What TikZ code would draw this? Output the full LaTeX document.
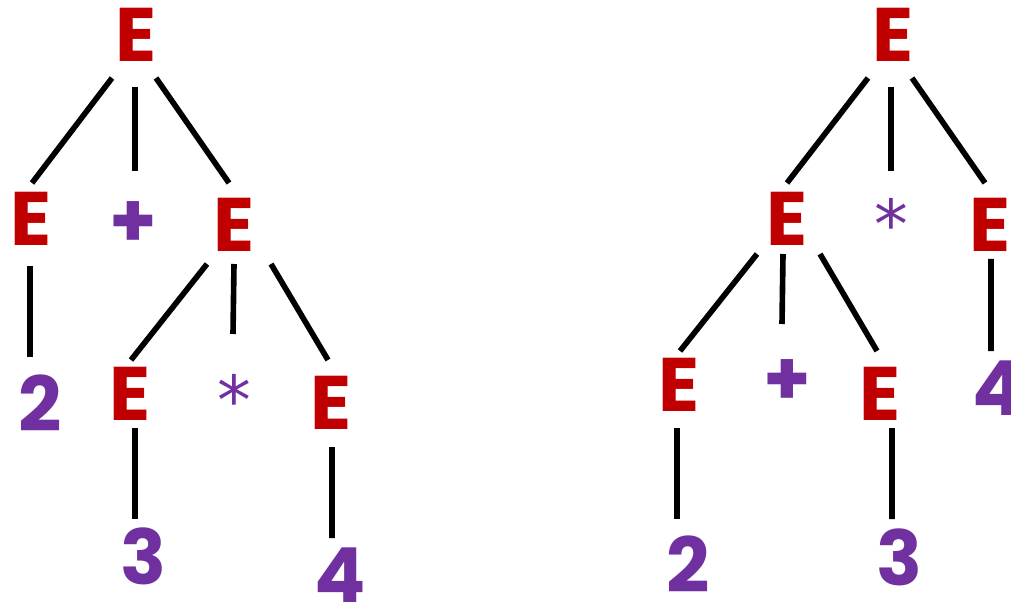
\documentclass[tikz,border=0pt]{standalone}
\usepackage{fontspec}
\usepackage{tikz}
\usetikzlibrary{calc}
\newfontfamily\treefont{Poppins}
\newfontfamily\starfont{DejaVu Sans}
\definecolor{ntred}{HTML}{C00000}
\definecolor{tmpurple}{HTML}{7030A0}

\begin{document}
\begin{tikzpicture}[x=0.025cm, y=-0.025cm,
	nt/.style={inner sep=0pt, color=ntred, font=\treefont\bfseries\fontsize{54}{60}\selectfont},
	tm/.style={inner sep=0pt, color=tmpurple, font=\treefont\bfseries\fontsize{54}{60}\selectfont},
	op/.style={inner sep=0pt, color=tmpurple, font=\starfont\fontsize{48}{54}\selectfont},
	br/.style={line width=4pt, color=black}]
	%%%%% START %%%%%
	
	\useasboundingbox (0, 0) rectangle (1011, 602);
	
	% left tree: E + (E * E)
	\node[nt] (rA) at (136.5, 34.5) {E};
	\node[nt] (eA) at (31, 218.5) {E};
	\node[tm] (pA) at (133, 225) {+};
	\node[nt] (eB) at (234.5, 225) {E};
	\node[tm] (nA) at (40.5, 403.5) {2};
	\node[nt] (eC) at (130, 394) {E};
	\node[op] (sA) at (234, 399) {*};
	\node[nt] (eD) at (331.5, 403) {E};
	\node[tm] (nB) at (143, 556) {3};
	\node[tm] (nC) at (340, 575) {4};
	
	\draw[br] ($(rA)+(-24.5, 43.5)$) -- ($(eA)+(1, -35.5)$);
	\draw[br] ($(rA)+(-1.5, 52.5)$) -- ($(pA)+(2, -54)$);
	\draw[br] ($(rA)+(19.5, 43.5)$) -- ($(eB)+(-5.5, -42)$);
	\draw[br] ($(eA)+(-1, 47.5)$) -- ($(nA)+(-10.5, -46.5)$);
	\draw[br] ($(eB)+(-27.5, 39)$) -- ($(eC)+(1, -34)$);
	\draw[br] ($(eB)+(-0.5, 39)$) -- ($(sA)+(-1, -65)$);
	\draw[br] ($(eB)+(36.5, 39)$) -- ($(eD)+(-3.5, -43)$);
	\draw[br] ($(eC)+(5, 34)$) -- ($(nB)+(-8, -37)$);
	\draw[br] ($(eD)+(0.5, 44)$) -- ($(nC)+(-8, -37)$);
	
	% right tree: (E + E) * E
	\node[nt] (rB) at (893, 34.5) {E};
	\node[nt] (eE) at (787, 218.5) {E};
	\node[op] (sB) at (891, 223) {*};
	\node[nt] (eF) at (990.5, 225) {E};
	\node[nt] (eG) at (679.5, 385) {E};
	\node[tm] (pB) at (787, 383) {+};
	\node[nt] (eH) at (880.5, 394) {E};
	\node[tm] (nD) at (998, 388.5) {4};
	\node[tm] (nE) at (688, 564) {2};
	\node[tm] (nF) at (899, 557) {3};
	
	\draw[br] ($(rB)+(-25, 43.5)$) -- ($(eE)+(0, -35.5)$);
	\draw[br] ($(rB)+(-2, 52.5)$) -- ($(sB)+(0, -52)$);
	\draw[br] ($(rB)+(19, 43.5)$) -- ($(eF)+(-5.5, -42)$);
	\draw[br] ($(eE)+(-30, 35.5)$) -- ($(eG)+(0.5, -34)$);
	\draw[br] ($(eE)+(-4, 35.5)$) -- ($(pB)+(-5, -59)$);
	\draw[br] ($(eE)+(33, 35.5)$) -- ($(eH)+(-3.5, -43)$);
	\draw[br] ($(eF)+(0.5, 34)$) -- ($(nD)+(-7, -37.5)$);
	\draw[br] ($(eG)+(-2.5, 43)$) -- ($(nE)+(-11, -45)$);
	\draw[br] ($(eH)+(11.5, 34)$) -- ($(nF)+(-7, -38)$);
	
	%%%%% END %%%%%
\end{tikzpicture}
\end{document}
